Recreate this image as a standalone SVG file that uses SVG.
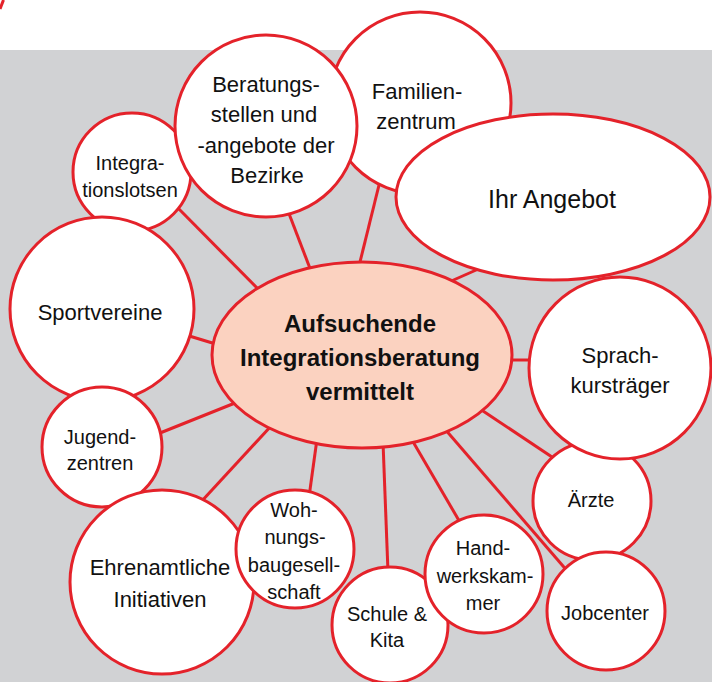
<svg xmlns="http://www.w3.org/2000/svg" width="712" height="682" viewBox="0 0 712 682">
<style>
.bg{fill:#d1d2d4}
.n{fill:#ffffff;stroke:#e4222a;stroke-width:3}
.c{fill:#fbd2c0;stroke:#e4222a;stroke-width:3}
.e line{stroke:#e4222a;stroke-width:3;stroke-linecap:butt}
text{font-family:"Liberation Sans",Arial,sans-serif;fill:#111;text-anchor:middle}
.t20{font-size:20px}
.t22{font-size:22px}
.t25{font-size:25px}
.tb{font-size:24px;font-weight:bold}
</style>
<rect x="0" y="0" width="712" height="682" fill="#ffffff"/>
<rect class="bg" x="0" y="50" width="712" height="632"/>
<path d="M0 9 L3.5 0" stroke="#e4222a" stroke-width="3" fill="none"/>
<g id="connectors" class="e">
<line x1="176" y1="206" x2="261" y2="292"/>
<line x1="288" y1="211" x2="311" y2="271"/>
<line x1="380" y1="181" x2="359" y2="266"/>
<line x1="483" y1="267" x2="449" y2="282"/>
<line x1="186" y1="335" x2="219" y2="345"/>
<line x1="506" y1="360" x2="536" y2="360"/>
<line x1="155" y1="435" x2="240" y2="401"/>
<line x1="200" y1="503" x2="272" y2="425"/>
<line x1="309" y1="497" x2="317" y2="439"/>
<line x1="388" y1="572" x2="383" y2="442"/>
<line x1="461" y1="524" x2="412" y2="440"/>
<line x1="569" y1="573" x2="444" y2="428"/>
<line x1="555" y1="459" x2="480" y2="409"/>
</g>
<g id="integrationslotsen">
<circle class="n" cx="132" cy="172" r="59"/>
<text class="t20" x="130" y="170">Integra-</text>
<text class="t20" x="130" y="197">tionslotsen</text>
</g>
<g id="familienzentrum">
<circle class="n" cx="420" cy="103" r="91"/>
<text class="t22" x="417" y="99">Familien-</text>
<text class="t22" x="416" y="129">zentrum</text>
</g>
<g id="beratungsstellen">
<circle class="n" cx="266" cy="126" r="91"/>
<text class="t22" x="266" y="92">Beratungs-</text>
<text class="t22" x="264" y="122">stellen und</text>
<text class="t22" x="266" y="153">-angebote der</text>
<text class="t22" x="267" y="183">Bezirke</text>
</g>
<g id="ihr-angebot">
<ellipse class="n" cx="553" cy="197" rx="157" ry="83"/>
<text class="t25" x="552" y="208">Ihr Angebot</text>
</g>
<g id="sportvereine">
<circle class="n" cx="102" cy="309" r="92"/>
<text class="t22" x="100" y="320">Sportvereine</text>
</g>
<g id="jugendzentren">
<circle class="n" cx="102" cy="447" r="60"/>
<text class="t20" x="100" y="444">Jugend-</text>
<text class="t20" x="100" y="470">zentren</text>
</g>
<g id="ehrenamtliche-initiativen">
<circle class="n" cx="162" cy="582" r="92"/>
<text class="t22" x="160" y="575">Ehrenamtliche</text>
<text class="t22" x="160" y="607">Initiativen</text>
</g>
<g id="wohnungsbaugesellschaft">
<circle class="n" cx="295" cy="549" r="59"/>
<text class="t20" x="294" y="517">Woh-</text>
<text class="t20" x="295" y="544">nungs-</text>
<text class="t20" x="294" y="572">baugesell-</text>
<text class="t20" x="294" y="599">schaft</text>
</g>
<g id="schule-kita">
<circle class="n" cx="390" cy="625" r="58"/>
<text class="t20" x="387" y="621">Schule &amp;</text>
<text class="t20" x="387" y="647">Kita</text>
</g>
<g id="handwerkskammer">
<circle class="n" cx="484" cy="574" r="59"/>
<text class="t20" x="483" y="555">Hand-</text>
<text class="t20" x="485" y="583">werkskam-</text>
<text class="t20" x="483" y="610">mer</text>
</g>
<g id="aerzte">
<circle class="n" cx="592" cy="501" r="59"/>
<text class="t20" x="591" y="507">Ärzte</text>
</g>
<g id="sprachkurstraeger">
<circle class="n" cx="620" cy="368" r="91"/>
<text class="t22" x="620" y="363">Sprach-</text>
<text class="t22" x="620" y="393">kursträger</text>
</g>
<g id="jobcenter">
<circle class="n" cx="606" cy="611" r="59"/>
<text class="t20" x="605" y="620">Jobcenter</text>
</g>
<g id="center">
<ellipse class="c" cx="362" cy="355" rx="150" ry="93"/>
<text class="tb" x="360" y="332">Aufsuchende</text>
<text class="tb" x="360" y="366">Integrationsberatung</text>
<text class="tb" x="360" y="400">vermittelt</text>
</g>
</svg>
